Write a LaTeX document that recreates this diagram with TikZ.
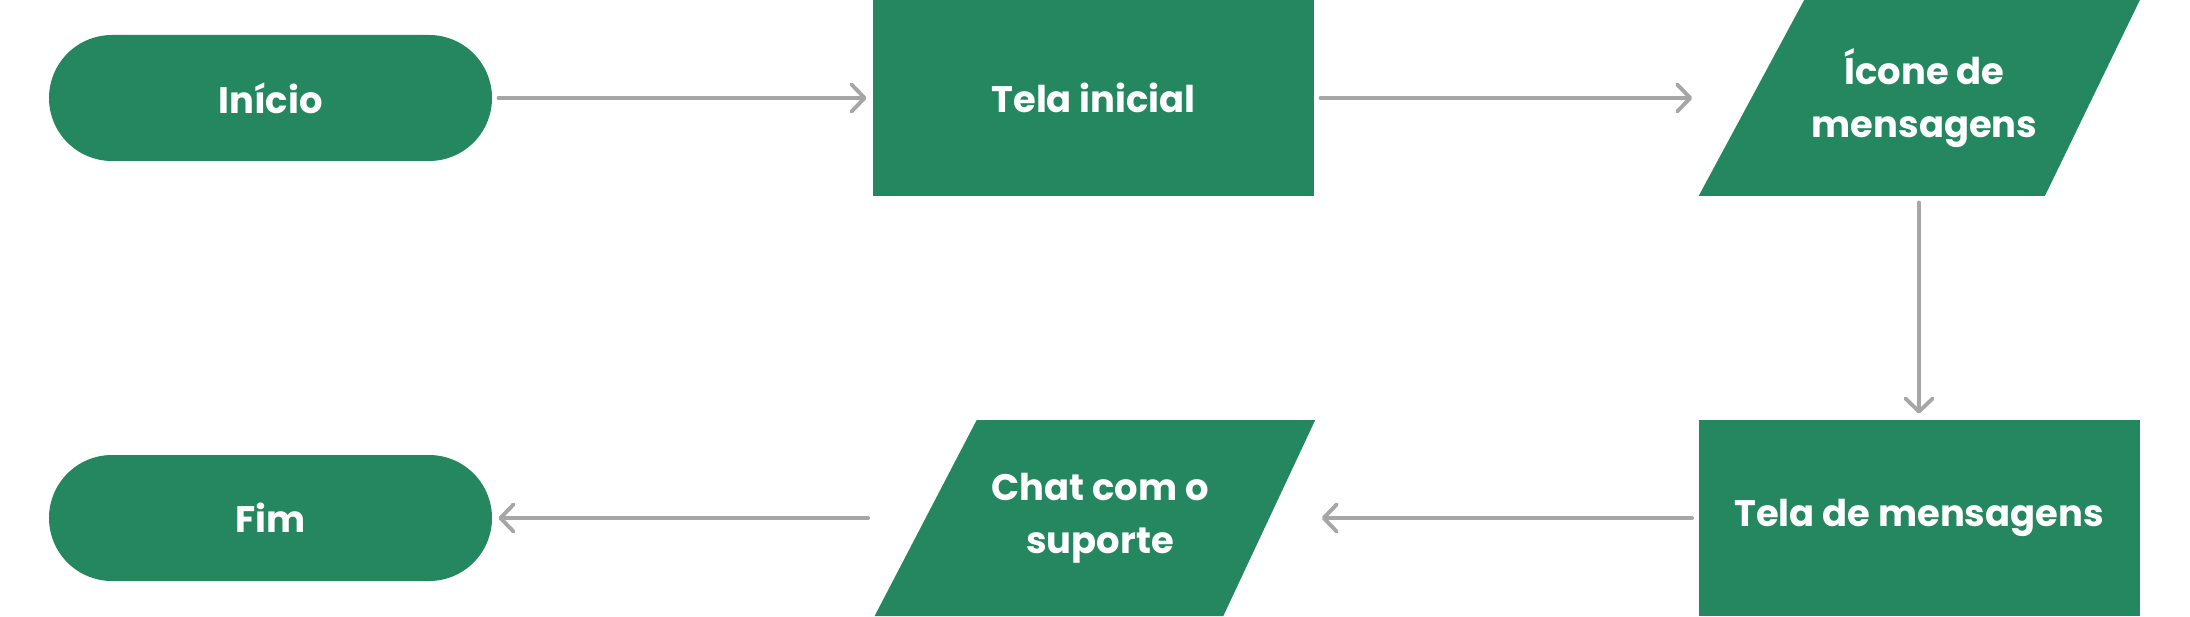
\documentclass[tikz,border=0pt]{standalone}
\usepackage{fontspec}
\setmainfont{Poppins}
\usetikzlibrary{positioning,arrows.meta,shapes.geometric}
\definecolor{flowgreen}{HTML}{258760}
\definecolor{flowgray}{HTML}{A6A6A6}

\begin{document}
\begin{tikzpicture}[font=\fontsize{21}{30}\selectfont\bfseries,
  every node/.style={align=center, text=white, fill=flowgreen, inner sep=0pt, outer sep=0pt},
  terminal/.style={rectangle, rounded corners=1.26cm, minimum width=8.86cm, minimum height=2.52cm},
  process/.style={rectangle, minimum width=8.82cm, minimum height=3.92cm},
  io/.style={trapezium, trapezium left angle=45, trapezium right angle=132, trapezium stretches=true, minimum width=8.84cm, minimum height=3.92cm},
  flow/.style={draw=flowgray, line width=2.2pt, line cap=round, shorten >=0.13cm, shorten <=0.13cm, -{Straight Barb[round, length=0.26cm, width=0.54cm]}}]
  \useasboundingbox (0,0) rectangle (43.8,12.32);
  \node[terminal] (inicio) at (5.41,10.36) {Início};
  \node[process] (telainicial) at (21.87,10.36) {Tela inicial};
  \node[io] (icone) at (38.49,10.36) {Ícone de\\mensagens};
  \node[process] (telamsg) at (38.38,1.96) {Tela de mensagens};
  \node[io] (chat) at (22.0,1.96) {Chat com o\\suporte};
  \node[terminal] (fim) at (5.41,1.96) {Fim};
  \draw[flow] (inicio) -- (telainicial);
  \draw[flow] (telainicial) -- (icone.bottom left corner |- icone.center);
  \draw[flow] (icone.south -| telamsg) -- (telamsg);
  \draw[flow] (telamsg) -- (chat.top right corner |- chat.center);
  \draw[flow] (chat.bottom left corner |- chat.center) -- (fim);
\end{tikzpicture}
\end{document}
